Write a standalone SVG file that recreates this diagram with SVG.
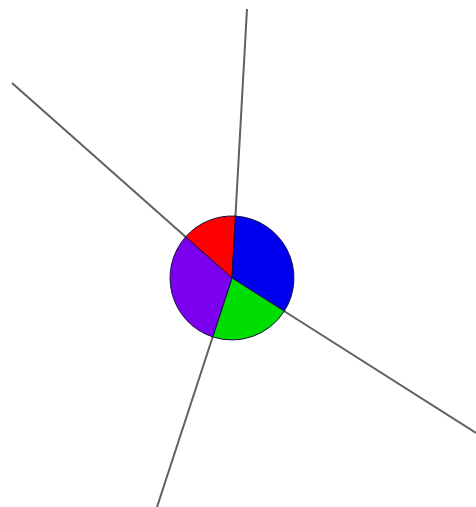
<svg xmlns="http://www.w3.org/2000/svg" width="476" height="507" viewBox="0 0 476 507">
<style>
.edge{stroke:#606060;stroke-width:2;fill:none;stroke-linecap:butt}
.sec{stroke:#1a1040;stroke-width:1;stroke-linejoin:round}
</style>
<rect width="476" height="507" fill="#ffffff"/>
<g id="connectors">
<line class="edge" x1="247" y1="9" x2="232" y2="278"/>
<line class="edge" x1="12" y1="83" x2="232" y2="278"/>
<line class="edge" x1="157" y1="507" x2="232" y2="278"/>
<line class="edge" x1="476" y1="433" x2="232" y2="278"/>
</g>
<g id="node-pie">
<path class="sec" fill="#ff0000" d="M232 278 L185.6 236.9 A62 62 0 0 1 235.5 216.1 Z"/>
<path class="sec" fill="#0000ee" d="M232 278 L235.5 216.1 A62 62 0 0 1 284.3 311.2 Z"/>
<path class="sec" fill="#00dd00" d="M232 278 L284.3 311.2 A62 62 0 0 1 212.7 336.9 Z"/>
<path class="sec" fill="#7a00ee" d="M232 278 L212.7 336.9 A62 62 0 0 1 185.6 236.9 Z"/>
</g>
</svg>
